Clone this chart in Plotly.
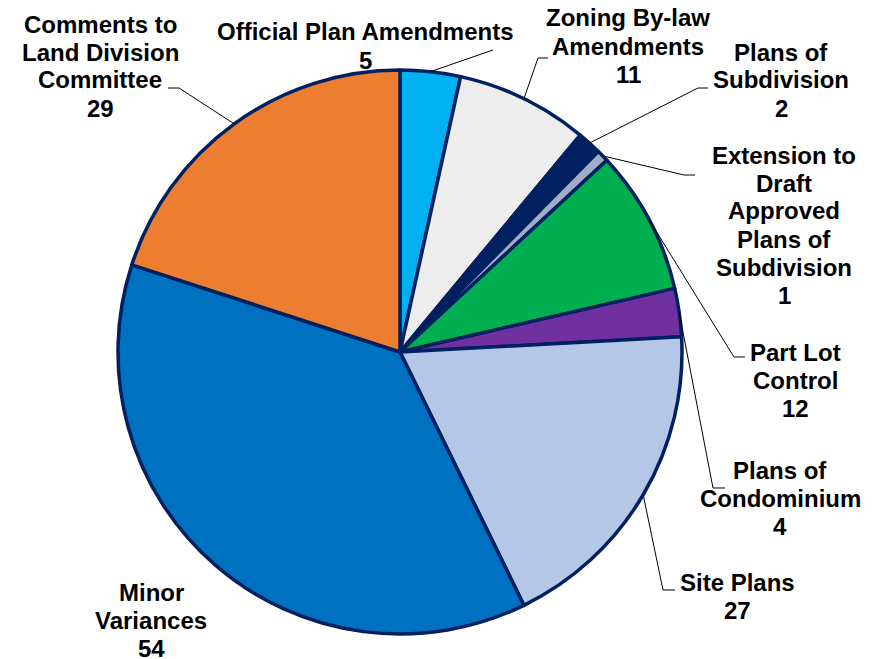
import math
import plotly.graph_objects as go

# ---- data ----
categories = [
    "Official Plan Amendments",
    "Zoning By-law Amendments",
    "Plans of Subdivision",
    "Extension to Draft Approved Plans of Subdivision",
    "Part Lot Control",
    "Plans of Condominium",
    "Site Plans",
    "Minor Variances",
    "Comments to Land Division Committee",
]
counts = [5, 11, 2, 1, 12, 4, 27, 54, 29]
label_lines = [
    ["Official Plan Amendments"],
    ["Zoning By-law", "Amendments"],
    ["Plans of", "Subdivision"],
    ["Extension to", "Draft", "Approved", "Plans of", "Subdivision"],
    ["Part Lot", "Control"],
    ["Plans of", "Condominium"],
    ["Site Plans"],
    ["Minor", "Variances"],
    ["Comments to", "Land Division", "Committee"],
]
colors = ["#00B0F0", "#EDEDED", "#002060", "#9FADC7", "#00B050",
          "#7030A0", "#B4C7E7", "#0070C0", "#ED7D31"]

# ---- layout constants (window pixels) ----
OFF = 8  # page body margin
W, H = 877 - OFF, 659 - OFF
CX, CY, R = 400, 352, 282
LINE_H = 28
# label block: center x, first-line center y
label_pos = [
    (365, 32), (628, 18), (781, 52), (784, 155), (795, 352),
    (780, 470), (737, 582), (151, 592), (100, 24),
]
# leader line bends (None = no leader)
leader_pts = [
    [(493, 50)],
    [(538, 58), (548, 58)],
    [(698, 88), (708, 88)],
    [(684, 175), (695, 175)],
    [(734, 357), (745, 357)],
    [(713, 488), (725, 488)],
    [(663, 590), (675, 590)],
    None,
    [(179, 88), (168, 88)],
]

def px(x):
    return (x - OFF) / W

def py(y):
    return 1 - (y - OFF) / H

fig = go.Figure(go.Pie(
    labels=categories,
    values=counts,
    sort=False,
    direction="clockwise",
    rotation=0,
    textinfo="none",
    marker=dict(colors=colors, line=dict(color="#002060", width=3.5)),
    domain=dict(x=[px(CX - R), px(CX + R)], y=[py(CY + R), py(CY - R)]),
    showlegend=False,
))

font = dict(family="Arial, Liberation Sans, sans-serif", size=24, color="#000000")
annotations = []
shapes = []
total = sum(counts)
cum = 0
for i, v in enumerate(counts):
    lines = label_lines[i] + [str(v)]
    lx, ly = label_pos[i]
    for j, t in enumerate(lines):
        annotations.append(dict(
            x=px(lx), y=py(ly + j * LINE_H), xref="paper", yref="paper",
            text="<b>%s</b>" % t, showarrow=False, font=font,
            xanchor="center", yanchor="middle",
        ))
    ang = math.radians((cum + v / 2) / total * 360)
    cum += v
    if leader_pts[i] is None:
        continue
    sx = CX + R * math.sin(ang)
    sy = CY - R * math.cos(ang)
    pts = [(sx, sy)] + leader_pts[i]
    path = "M " + " L ".join("%f,%f" % (px(a), py(b)) for a, b in pts)
    shapes.append(dict(type="path", path=path, xref="paper", yref="paper",
                       line=dict(color="#000000", width=1)))

fig.update_layout(
    width=W, height=H,
    margin=dict(l=0, r=0, t=0, b=0),
    paper_bgcolor="white", plot_bgcolor="white",
    annotations=annotations, shapes=shapes,
)
fig.write_html("out.html")
